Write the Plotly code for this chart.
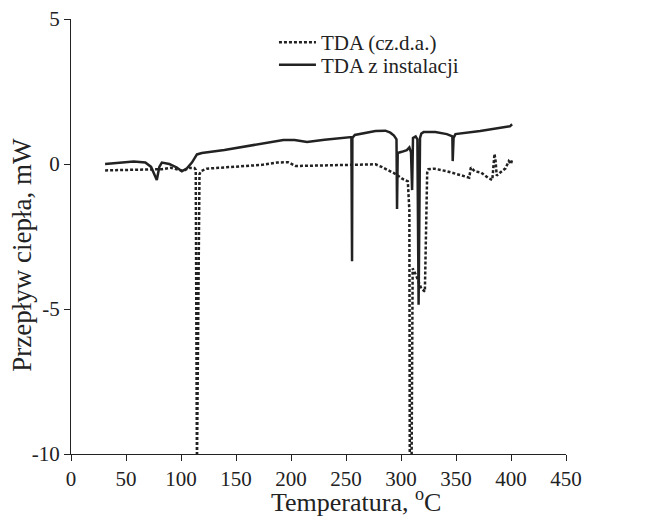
import plotly.graph_objects as go

# TDA z instalacji (solid)
solid_T = [31, 44, 57, 67.6, 72.8, 78, 80.3, 82.6, 89.4, 96.2, 100.8, 105.4, 109.9, 114.5, 119, 139.5,
           171.4, 193, 203.2, 214.6, 230.5, 254.9, 255.5, 255.8, 258, 276.8, 285.8, 290.3, 293.6, 295.9,
           296.4, 297, 300.7, 305.3, 307.6, 309.1, 310.1, 310.9, 313.3, 314.9, 316, 317.3, 318.5, 320.6,
           331.2, 341.7, 346.7, 347, 347.8, 349.5, 372, 392, 399, 401]
solid_V = [0.0, 0.05, 0.09, 0.05, -0.1, -0.55, -0.1, 0.05, 0.0, -0.12, -0.25, -0.15, 0.05, 0.33, 0.38,
           0.48, 0.68, 0.83, 0.83, 0.76, 0.84, 0.93, -3.35, 0.9, 1.0, 1.14, 1.15, 1.08, 0.98, 0.85, -1.55,
           0.38, 0.42, 0.48, 0.57, 0.4, -0.9, 0.9, 0.95, 0.85, -4.85, 0.9, 1.05, 1.1, 1.1, 1.03, 0.95, 0.1,
           0.9, 1.03, 1.14, 1.25, 1.3, 1.37]

# TDA (cz.d.a.) (dotted)
dot_T = [31, 57, 82.6, 90.5, 98.5, 101.9, 107.7, 112.2, 113.4, 113.9, 114.5, 116.8, 117.9, 123.6, 150.9,
         173.6, 187.3, 197.5, 204.3, 230.5, 265.6, 276.8, 282.4, 290.8, 295.9, 300.7, 306.2, 307.6, 308,
         309.6, 310.6, 313.3, 318.5, 321.7, 323.8, 324.9, 330.1, 341.7, 352, 362, 363.5, 367, 373, 380,
         383, 385, 386, 387, 390, 395, 398, 400, 401]
dot_V = [-0.22, -0.2, -0.18, -0.13, -0.2, -0.24, -0.13, -0.14, -0.2, -10.5, -10.5, -0.35, -0.25, -0.16,
         -0.1, -0.03, 0.05, 0.06, -0.07, -0.05, 0.0, -0.01, -0.1, -0.25, -0.36, -0.5, -0.6, -1.6, -10.5,
         -10.5, -3.6, -3.8, -4.3, -4.4, -0.3, -0.18, -0.16, -0.25, -0.36, -0.47, -0.12, -0.25, -0.3, -0.5,
         -0.55, 0.35, 0.1, -0.4, -0.3, -0.15, 0.1, 0.0, 0.15]

x_ticks = [0, 50, 100, 150, 200, 250, 300, 350, 400, 450]
y_ticks = [-10, -5, 0, 5]
y_tick_text = ["-10", "-5", "0", "5"]

FONT = "Liberation Serif"
INK = "#222"

fig = go.Figure()
fig.add_trace(go.Scatter(x=dot_T, y=dot_V, mode="lines", name="TDA (cz.d.a.)", legend="legend",
                         line=dict(color=INK, width=2.5, dash="3px,2px")))
fig.add_trace(go.Scatter(x=solid_T, y=solid_V, mode="lines", name="TDA z instalacji", legend="legend2",
                         line=dict(color=INK, width=2.5)))

leg_common = dict(xanchor="left", yanchor="middle", bgcolor="rgba(0,0,0,0)",
                  font=dict(family=FONT, size=21, color=INK), itemwidth=37)

fig.update_layout(
    width=652, height=520,
    margin=dict(l=71, r=86, t=7, b=66),
    paper_bgcolor="white", plot_bgcolor="white",
    font=dict(family=FONT, size=21, color=INK),
    showlegend=True,
    legend=dict(x=0.41, y=0.946, **leg_common),
    legend2=dict(x=0.41, y=0.894, **leg_common),
    xaxis=dict(range=[0, 450], tickvals=x_ticks, showline=True, linecolor=INK, linewidth=1.2,
               ticks="outside", ticklen=6, tickcolor=INK, showgrid=False, zeroline=False,
               ticklabeloverflow="allow"),
    yaxis=dict(range=[-10, 5], tickvals=y_ticks, ticktext=y_tick_text, showline=True, linecolor=INK,
               linewidth=1.2, ticks="outside", ticklen=6, tickcolor=INK, showgrid=False, zeroline=False,
               ticklabeloverflow="allow"),
    annotations=[
        dict(text="Temperatura, <sup>o</sup>C", xref="x domain", yref="paper",
             x=0.576, y=-0.150, xanchor="center", yanchor="bottom", showarrow=False,
             font=dict(family=FONT, size=26, color=INK)),
        dict(text="Przepływ ciepła, mW", xref="paper", yref="paper", textangle=-90,
             x=-0.099, y=0.458, xanchor="center", yanchor="middle", showarrow=False,
             font=dict(family=FONT, size=27, color=INK)),
    ],
)

fig.write_html("out.html", post_script="document.body.style.margin='0px';",
               config={"displayModeBar": False})
